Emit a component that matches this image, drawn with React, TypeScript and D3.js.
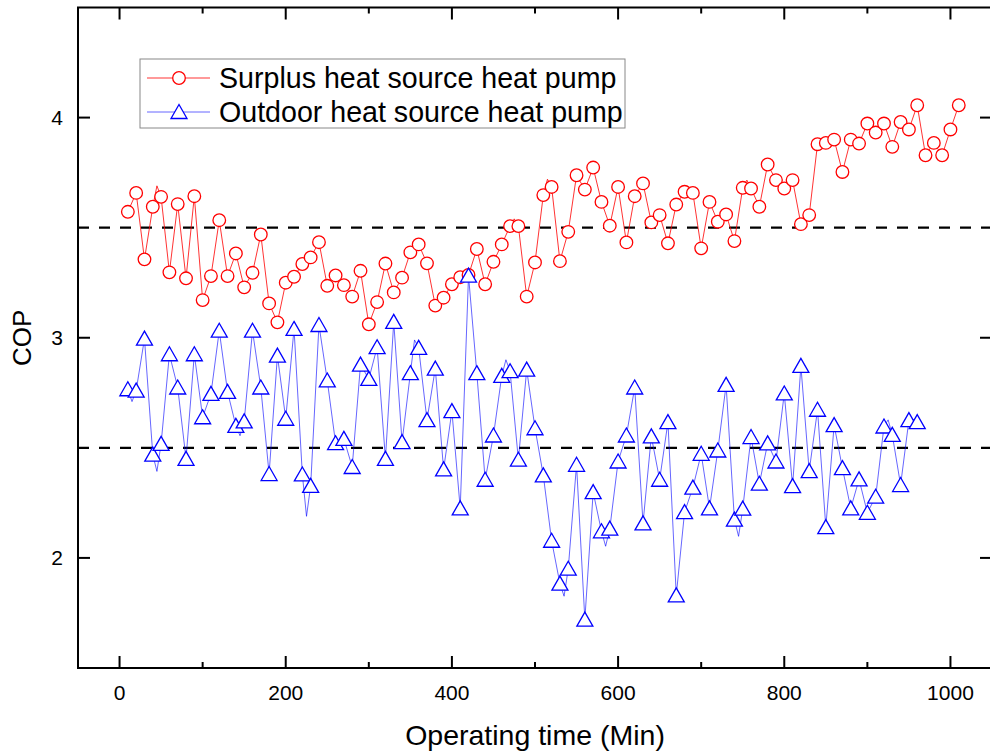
import React from "react";
import * as d3 from "d3";

// Operating time (min) for marker points
const redTimes: number[] = d3.range(10, 1011, 10);
const redValues: number[] = [
  3.572, 3.658, 3.356, 3.595, 3.640, 3.297, 3.607, 3.270, 3.643, 3.171,
  3.280, 3.534, 3.280, 3.383, 3.229, 3.295, 3.469, 3.156, 3.070, 3.250,
  3.277, 3.335, 3.365, 3.434, 3.236, 3.283, 3.239, 3.187, 3.304, 3.061,
  3.162, 3.337, 3.206, 3.273, 3.388, 3.424, 3.338, 3.146, 3.182, 3.243,
  3.275, 3.285, 3.403, 3.243, 3.345, 3.424, 3.507, 3.507, 3.187, 3.342,
  3.648, 3.685, 3.348, 3.481, 3.738, 3.673, 3.773, 3.617, 3.509, 3.685,
  3.433, 3.643, 3.701, 3.524, 3.557, 3.429, 3.605, 3.663, 3.658, 3.406,
  3.617, 3.527, 3.560, 3.439, 3.681, 3.678, 3.595, 3.787, 3.716, 3.678,
  3.716, 3.516, 3.557, 3.879, 3.885, 3.900, 3.753, 3.900, 3.882, 3.973,
  3.932, 3.973, 3.867, 3.980, 3.946, 4.056, 3.829, 3.885, 3.829, 3.946,
  4.056,
];
// intermediate (unmarked) points visible on the red line
const redExtraTimes: number[] = [45, 475, 515, 755];
const redExtraValues: number[] = [3.69, 3.54, 3.72, 3.716];

const blueTimes: number[] = d3.range(10, 961, 10);
const blueValues: number[] = [
  2.766, 2.760, 2.996, 2.469, 2.518, 2.925, 2.774, 2.450, 2.925, 2.639,
  2.745, 3.032, 2.754, 2.600, 2.620, 3.032, 2.774, 2.381, 2.919, 2.632,
  3.040, 2.379, 2.327, 3.058, 2.806, 2.521, 2.541, 2.413, 2.878, 2.813,
  2.957, 2.450, 3.072, 2.526, 2.839, 2.954, 2.626, 2.860, 2.402, 2.667,
  2.225, 3.282, 2.839, 2.355, 2.556, 2.827, 2.848, 2.446, 2.855, 2.589,
  2.375, 2.078, 1.883, 1.951, 2.423, 1.720, 2.299, 2.121, 2.133, 2.438,
  2.556, 2.774, 2.157, 2.552, 2.355, 2.617, 1.830, 2.208, 2.319, 2.473,
  2.225, 2.488, 2.786, 2.174, 2.224, 2.549, 2.337, 2.520, 2.438, 2.747,
  2.326, 2.872, 2.394, 2.673, 2.140, 2.603, 2.408, 2.225, 2.357, 2.205,
  2.278, 2.597, 2.559, 2.331, 2.626, 2.617,
];
const blueExtraTimes: number[] = [15, 45, 145, 225, 355, 465, 535, 585, 745, 925, 955];
const blueExtraValues: number[] = [2.71, 2.393, 2.555, 2.189, 2.99, 2.90, 1.826, 2.053, 2.098, 2.627, 2.63];

const refLines: number[] = [3.5, 2.5];
const xMajorTicks: number[] = [0, 200, 400, 600, 800, 1000];
const xMinorTicks: number[] = [100, 300, 500, 700, 900];
const yMajorTicks: number[] = [2, 3, 4];

const seriesNames: string[] = ["Surplus heat source heat pump", "Outdoor heat source heat pump"];
const xTitle = "Operating time (Min)";
const yTitle = "COP";

const W = 990;
const H = 755;
const L = 78, R = 992, T = 7.5, B = 668;
const FONT = "'Liberation Sans', Arial, sans-serif";

type Pt = { t: number; v: number };

function merge(ts: number[], vs: number[], ets: number[], evs: number[]): Pt[] {
  const pts: Pt[] = ts.map((t, i) => ({ t, v: vs[i] }));
  ets.forEach((t, i) => pts.push({ t, v: evs[i] }));
  return pts.sort((a, b) => a.t - b.t);
}

export default function App() {
  const x = d3.scaleLinear().domain([-50, 1050]).range([L, R]);
  const y = d3.scaleLinear().domain([1.5, 4.5]).range([B, T]);
  const line = d3.line<Pt>().x((d) => x(d.t)).y((d) => y(d.v));

  const redLine = merge(redTimes, redValues, redExtraTimes, redExtraValues);
  const blueLine = merge(blueTimes, blueValues, blueExtraTimes, blueExtraValues);

  const RED = "#ff0000";
  const BLUE = "#0000ff";
  const tri = "M0,-7.5 L8,6.5 L-8,6.5 Z";
  const CR = 6.3;

  return (
    <svg width={W} height={H} style={{ position: "absolute", left: 0, top: 0, background: "#fff" }}>
      <rect x={0} y={0} width={W} height={H} fill="#fff" />
      {/* reference dashed lines */}
      {refLines.map((v) => (
        <line key={v} x1={L} x2={R} y1={y(v)} y2={y(v)} stroke="#000" strokeWidth={2.2} strokeDasharray="11,10" />
      ))}
      {/* red series */}
      <path d={line(redLine) || ""} fill="none" stroke={RED} strokeWidth={1} strokeOpacity={0.8} />
      {redTimes.map((t, i) => (
        <circle key={"r" + t} cx={x(t)} cy={y(redValues[i])} r={CR} fill="#fff" stroke={RED} strokeWidth={1.3} />
      ))}
      {/* blue series */}
      <path d={line(blueLine) || ""} fill="none" stroke={BLUE} strokeWidth={1} strokeOpacity={0.6} />
      {blueTimes.map((t, i) => (
        <path key={"b" + t} d={tri} transform={`translate(${x(t)},${y(blueValues[i])})`} fill="#fff" stroke={BLUE} strokeWidth={1.3} />
      ))}
      {/* frame */}
      <rect x={L} y={T} width={R - L} height={B - T} fill="none" stroke="#000" strokeWidth={2} />
      {/* x ticks */}
      {xMajorTicks.map((t) => (
        <g key={"xm" + t}>
          <line x1={x(t)} x2={x(t)} y1={B} y2={B - 12} stroke="#000" strokeWidth={2} />
          <line x1={x(t)} x2={x(t)} y1={T} y2={T + 12} stroke="#000" strokeWidth={2} />
          <text x={x(t)} y={700} textAnchor="middle" fontFamily={FONT} fontSize={21}>{t}</text>
        </g>
      ))}
      {xMinorTicks.map((t) => (
        <g key={"xn" + t}>
          <line x1={x(t)} x2={x(t)} y1={B} y2={B - 6} stroke="#000" strokeWidth={2} />
          <line x1={x(t)} x2={x(t)} y1={T} y2={T + 6} stroke="#000" strokeWidth={2} />
        </g>
      ))}
      {/* y ticks */}
      {yMajorTicks.map((v) => (
        <g key={"ym" + v}>
          <line x1={L} x2={L + 12} y1={y(v)} y2={y(v)} stroke="#000" strokeWidth={2} />
          <line x1={R} x2={R - 12} y1={y(v)} y2={y(v)} stroke="#000" strokeWidth={2} />
          <text x={63} y={y(v) + 7.5} textAnchor="end" fontFamily={FONT} fontSize={21}>{v}</text>
        </g>
      ))}
      {/* axis titles */}
      <text x={535} y={745} textAnchor="middle" fontFamily={FONT} fontSize={28.5}>{xTitle}</text>
      <text transform={`translate(31,${(T + B) / 2}) rotate(-90)`} textAnchor="middle" fontFamily={FONT} fontSize={26}>{yTitle}</text>
      {/* legend */}
      <rect x={140} y={59} width={485} height={69} fill="#fff" stroke="#888" strokeWidth={1} />
      <line x1={147} x2={210} y1={78} y2={78} stroke={RED} strokeWidth={1} strokeOpacity={0.8} />
      <circle cx={179} cy={78} r={CR} fill="#fff" stroke={RED} strokeWidth={1.3} />
      <text x={219} y={88} fontFamily={FONT} fontSize={28.6}>{seriesNames[0]}</text>
      <line x1={147} x2={210} y1={112} y2={112} stroke={BLUE} strokeWidth={1} strokeOpacity={0.6} />
      <path d={tri} transform="translate(179,112)" fill="#fff" stroke={BLUE} strokeWidth={1.3} />
      <text x={219} y={122} fontFamily={FONT} fontSize={28.6}>{seriesNames[1]}</text>
    </svg>
  );
}
